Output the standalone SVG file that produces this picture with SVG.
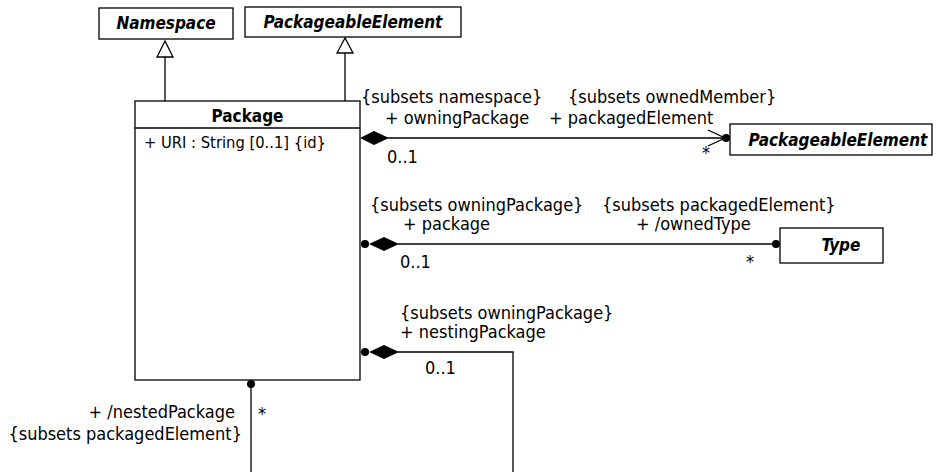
<svg xmlns="http://www.w3.org/2000/svg" width="936" height="472" viewBox="0 0 936 472">
<style>
text{font-family:"DejaVu Sans Condensed","DejaVu Sans",sans-serif;font-size:18px;fill:#000}
.cls{font-weight:bold;font-style:italic;font-size:17px;fill:#000}
.ttl{font-weight:bold;font-size:17px;text-anchor:middle}
.attr{font-size:16.4px}
.box{fill:#fff;stroke:#000;stroke-width:1.3}
.ln{fill:none;stroke:#000;stroke-width:1.3}
.end{text-anchor:end}
</style>
<g id="Namespace">
<rect class="box" x="99" y="8" width="134" height="31"/>
<text class="cls" x="166" y="29" text-anchor="middle">Namespace</text>
</g>
<g id="PackageableElementTop">
<rect class="box" x="245" y="7" width="216" height="30"/>
<text class="cls" x="353" y="28" text-anchor="middle">PackageableElement</text>
</g>
<g id="Package">
<rect class="box" x="135" y="101" width="225" height="279"/>
<line class="ln" x1="135" y1="128" x2="360" y2="128"/>
<text class="ttl" x="247.5" y="122">Package</text>
<text class="attr" x="144" y="148">+ URI : String [0..1] {id}</text>
</g>
<g id="PackageableElementRight">
<rect class="box" x="730" y="124" width="202" height="31"/>
<text class="cls" x="838" y="146" text-anchor="middle">PackageableElement</text>
</g>
<g id="Type">
<rect class="box" x="780" y="228" width="103" height="35"/>
<text class="cls" x="841" y="251" text-anchor="middle">Type</text>
</g>
<g id="connectors">
<line class="ln" x1="165" y1="101" x2="165" y2="57"/>
<path d="M165,41 L157,57 L173,57 Z" fill="#fff" stroke="#000" stroke-width="1.3"/>
<line class="ln" x1="345" y1="101" x2="345" y2="53"/>
<path d="M345,38 L337,53 L353,53 Z" fill="#fff" stroke="#000" stroke-width="1.3"/>
<line class="ln" x1="388" y1="138" x2="725" y2="138"/>
<path d="M360,138 L374,131 L389,138 L374,145 Z" fill="#000"/>
<path d="M708,130 L725,138 L708,146" class="ln"/>
<circle cx="726" cy="138" r="4" fill="#000"/>
<line class="ln" x1="398" y1="244" x2="776" y2="244"/>
<circle cx="365" cy="244" r="4" fill="#000"/>
<path d="M369,244 L384,237 L399,244 L384,251 Z" fill="#000"/>
<circle cx="776" cy="244" r="4" fill="#000"/>
<path class="ln" d="M398,352 L513,352 L513,472"/>
<circle cx="365" cy="352" r="4" fill="#000"/>
<path d="M369,352 L384,345 L399,352 L384,359 Z" fill="#000"/>
<line class="ln" x1="251" y1="384" x2="251" y2="472"/>
<circle cx="251" cy="384" r="4" fill="#000"/>
</g>
<g id="labels">
<text x="361" y="103">{subsets namespace}</text>
<text x="385" y="124">+ owningPackage</text>
<text x="387" y="163">0..1</text>
<text x="568" y="103">{subsets ownedMember}</text>
<text x="549" y="124">+ packagedElement</text>
<text x="702" y="159">*</text>
<text x="370" y="211">{subsets owningPackage}</text>
<text x="403" y="230">+ package</text>
<text x="400" y="268">0..1</text>
<text x="602" y="211">{subsets packagedElement}</text>
<text x="636" y="230">+ /ownedType</text>
<text x="746" y="268">*</text>
<text x="400" y="319">{subsets owningPackage}</text>
<text x="400" y="338">+ nestingPackage</text>
<text x="425" y="374">0..1</text>
<text class="end" x="235" y="418">+ /nestedPackage</text>
<text class="end" x="242" y="440">{subsets packagedElement}</text>
<text x="258" y="420">*</text>
</g>
</svg>
